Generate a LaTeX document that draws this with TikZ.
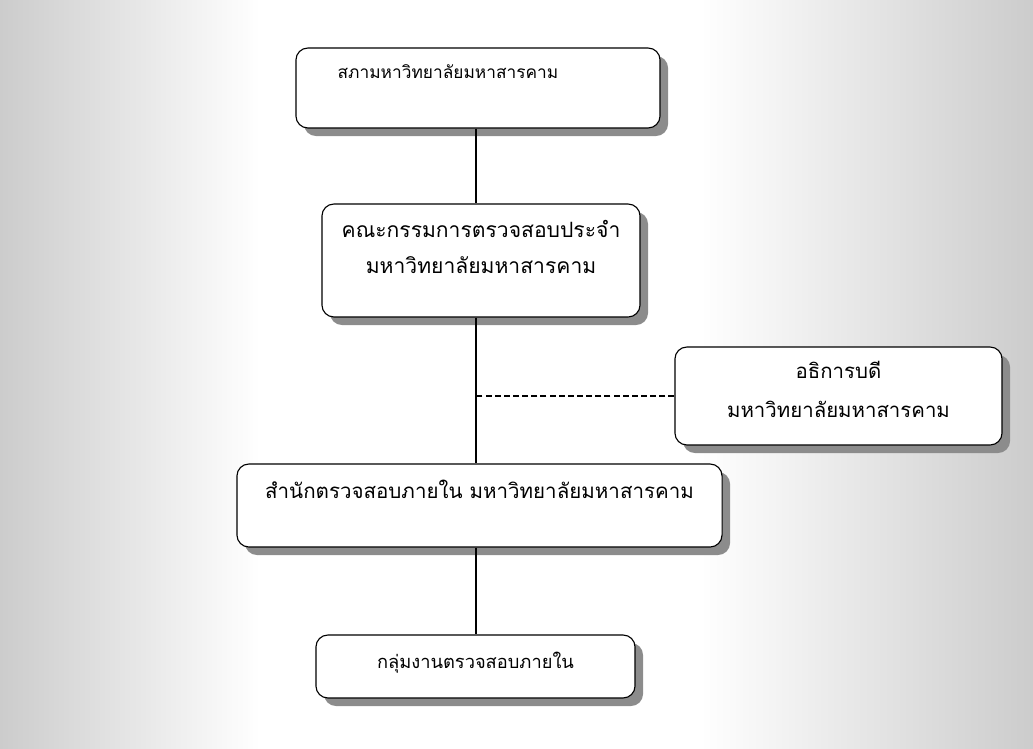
\documentclass[tikz,border=0pt]{standalone}
\usepackage{fontspec}
\newfontfamily\thaifont[Script=Thai]{Loma}
\usetikzlibrary{shadows}
\definecolor{scangray}{rgb}{0.80,0.80,0.80}
\definecolor{shadowgray}{rgb}{0.55,0.55,0.55}

\begin{document}
\begin{tikzpicture}[x=0.025cm,y=-0.025cm,
        orgbox/.style={draw,line width=0.8pt,rounded corners=0.3cm,fill=white,
            inner xsep=0pt,inner ysep=0pt,align=center,
            font=\thaifont\fontsize{14.6}{26}\selectfont,
            drop shadow={shadow xshift=0.2cm,shadow yshift=-0.2cm,fill=shadowgray,opacity=1}},
        link/.style={line width=0.8pt}]
        \useasboundingbox (0,0) rectangle (1033,749);
        % scan background
        \shade[left color=scangray,right color=white] (0,0) rectangle (260,749);
        \shade[left color=white,right color=scangray] (700,0) rectangle (1033,749);
        % boxes
        \node[orgbox,minimum width=9.1cm,minimum height=2cm,text height=0.775cm,text depth=1.225cm,
            font=\thaifont\fontsize{12.3}{26}\selectfont] (council) at (478,88) {สภามหาวิทยาลัยมหาสารคาม\hspace*{1.5cm}};
        \node[orgbox,minimum width=7.95cm,minimum height=2.825cm,text height=1.725cm,text depth=1.1cm,
            font=\thaifont\fontsize{15}{25.6}\selectfont] (committee) at (481,260.5) {คณะกรรมการตรวจสอบประจำ\\มหาวิทยาลัยมหาสารคาม};
        \node[orgbox,minimum width=8.175cm,minimum height=2.45cm,text height=1.75cm,text depth=0.7cm,
            font=\thaifont\fontsize{14.5}{27.7}\selectfont] (president) at (838.5,396) {อธิการบดี\\มหาวิทยาลัยมหาสารคาม};
        \node[orgbox,minimum width=12.125cm,minimum height=2.075cm,text height=0.85cm,text depth=1.225cm] (office) at (479.5,505.5) {สำนักตรวจสอบภายใน มหาวิทยาลัยมหาสารคาม};
        \node[orgbox,minimum width=7.975cm,minimum height=1.575cm,text height=0.825cm,text depth=0.75cm,
            font=\thaifont\fontsize{13}{26}\selectfont] (group) at (475.5,666.5) {กลุ่มงานตรวจสอบภายใน};
        % links
        \coordinate (trunk) at (476,0);
        \draw[link] (council.south -| trunk) -- (committee.north -| trunk);
        \draw[link] (committee.south -| trunk) -- (office.north -| trunk);
        \draw[link] (office.south -| trunk) -- (group.north -| trunk);
        \draw[link,dash pattern=on 4.3pt off 2.2pt] (president.west) -- (president.west -| trunk);
\end{tikzpicture}
\end{document}
